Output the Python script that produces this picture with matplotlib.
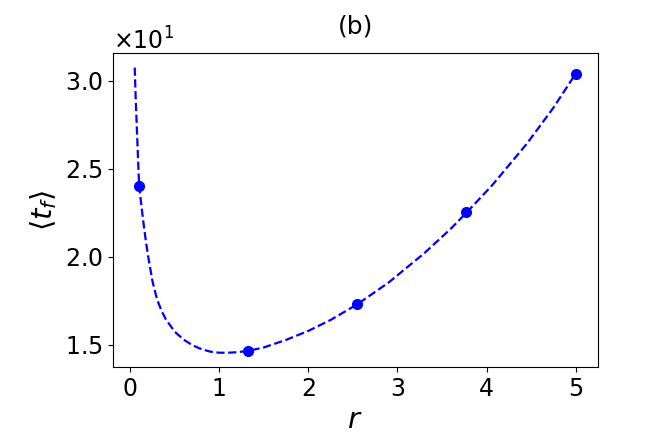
import matplotlib
matplotlib.use("Agg")
import matplotlib.pyplot as plt

# Simulation points
r_points = [0.1, 1.325, 2.55, 3.775, 5.0]
t_points = [24.02, 14.66, 17.31, 22.53, 30.38]

# Theory curve
r_curve = [0.05, 0.055, 0.06, 0.07, 0.08, 0.09, 0.1, 0.125, 0.15, 0.175, 0.2, 0.25,
           0.3, 0.35, 0.4, 0.5, 0.6, 0.7, 0.8, 0.9, 1.0, 1.1, 1.2, 1.33, 1.5,
           1.75, 2.0, 2.25, 2.55, 2.9, 3.3, 3.6, 3.78, 4.07, 4.45, 4.75, 5.0]
t_curve = [30.74, 29.9, 29.1, 27.8, 26.5, 25.2, 24.0, 22.9, 21.85, 20.9, 20.05, 18.6,
           17.6, 16.95, 16.45, 15.75, 15.3, 14.98, 14.76, 14.62, 14.56, 14.56, 14.59, 14.67, 14.86,
           15.29, 15.8, 16.42, 17.31, 18.54, 20.2, 21.6, 22.53, 24.1, 26.4, 28.45, 30.38]

fig = plt.figure(figsize=(6.64, 4.43), dpi=100)
ax = fig.add_axes([0.1697, 0.1716, 0.7303, 0.7081])

ax.plot(r_curve, t_curve, '--', color='b', linewidth=1.6)
ax.plot(r_points, t_points, 'o', color='b', markersize=7)

ax.ticklabel_format(axis='y', style='sci', scilimits=(0, 0), useMathText=True)
ax.yaxis.get_offset_text().set_fontsize(17)
ax.tick_params(labelsize=17)
ax.set_yticks([15, 20, 25, 30])
ax.set_xticks([0, 1, 2, 3, 4, 5])

ax.set_xlabel(r'$r$', fontsize=21)
ax.set_ylabel(r'$\langle t_f\rangle$', fontsize=21)
ax.set_title('(b)', fontsize=18, pad=14)

fig.savefig('out.png', dpi=100)
